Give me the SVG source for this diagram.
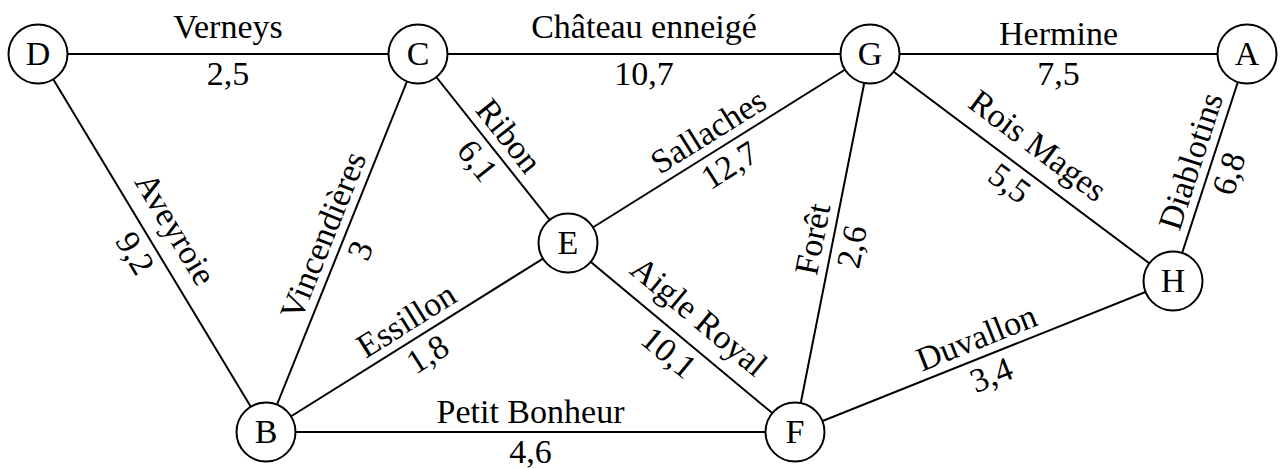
<svg xmlns="http://www.w3.org/2000/svg" width="1280" height="468" viewBox="0 0 1280 468">
<style>
.edge{stroke:#000;stroke-width:2;fill:none}
.node ellipse{fill:#fff;stroke:#000;stroke-width:2}
text{font-family:"Liberation Serif","Times New Roman",serif;font-size:34px;fill:#000;text-anchor:middle}
</style>
<rect width="1280" height="468" fill="#fff"/>
<g id="connectors">
<line class="edge" x1="38" y1="54" x2="418" y2="54"/>
<line class="edge" x1="418" y1="54" x2="870" y2="54"/>
<line class="edge" x1="870" y1="54" x2="1247" y2="54"/>
<line class="edge" x1="38" y1="54" x2="266" y2="432"/>
<line class="edge" x1="266" y1="432" x2="418" y2="54"/>
<line class="edge" x1="418" y1="54" x2="568" y2="243"/>
<line class="edge" x1="568" y1="243" x2="870" y2="54"/>
<line class="edge" x1="266" y1="432" x2="568" y2="243"/>
<line class="edge" x1="568" y1="243" x2="795" y2="432"/>
<line class="edge" x1="266" y1="432" x2="795" y2="432"/>
<line class="edge" x1="795" y1="432" x2="870" y2="54"/>
<line class="edge" x1="870" y1="54" x2="1173" y2="281"/>
<line class="edge" x1="1173" y1="281" x2="1247" y2="54"/>
<line class="edge" x1="795" y1="432" x2="1173" y2="281"/>
</g>
<g id="edge-labels">
<g transform="translate(228,54)"><text y="-16">Verneys</text><text y="31">2,5</text></g>
<g transform="translate(644,54)"><text y="-16">Château enneigé</text><text y="31">10,7</text></g>
<g transform="translate(1058.5,54)"><text y="-9">Hermine</text><text y="31">7,5</text></g>
<g transform="translate(152,243) rotate(58.9)"><text y="-16">Aveyroie</text><text y="31">9,2</text></g>
<g transform="translate(342,243) rotate(-68.1)"><text y="-9">Vincendières</text><text y="31">3</text></g>
<g transform="translate(493,148.5) rotate(51.6)"><text y="-9">Ribon</text><text y="31">6,1</text></g>
<g transform="translate(719,148.5) rotate(-32)"><text y="-9">Sallaches</text><text y="31">12,7</text></g>
<g transform="translate(417,337.5) rotate(-32)"><text y="-9">Essillon</text><text y="31">1,8</text></g>
<g transform="translate(681.5,337.5) rotate(39.8)"><text y="-16">Aigle Royal</text><text y="31">10,1</text></g>
<g transform="translate(530.5,432)"><text y="-9">Petit Bonheur</text><text y="31">4,6</text></g>
<g transform="translate(832.5,243) rotate(-78.8)"><text y="-9">Forêt</text><text y="31">2,6</text></g>
<g transform="translate(1021.5,167.5) rotate(36.8)"><text y="-16">Rois Mages</text><text y="31">5,5</text></g>
<g transform="translate(1210,167.5) rotate(-72)"><text y="-9">Diablotins</text><text y="31">6,8</text></g>
<g transform="translate(984,356.5) rotate(-21.8)"><text y="-9">Duvallon</text><text y="31">3,4</text></g>
</g>
<g id="node-D" class="node"><ellipse cx="38" cy="54" rx="29.5" ry="29.5"/><text x="38" y="65">D</text></g>
<g id="node-C" class="node"><ellipse cx="418" cy="54" rx="29.5" ry="29.5"/><text x="418" y="65">C</text></g>
<g id="node-G" class="node"><ellipse cx="870" cy="54" rx="29.5" ry="29.5"/><text x="870" y="65">G</text></g>
<g id="node-A" class="node"><ellipse cx="1247" cy="54" rx="29.5" ry="29.5"/><text x="1247" y="65">A</text></g>
<g id="node-E" class="node"><ellipse cx="568" cy="243" rx="29.5" ry="29.5"/><text x="568" y="254">E</text></g>
<g id="node-H" class="node"><ellipse cx="1173" cy="281" rx="29.5" ry="29.5"/><text x="1173" y="292">H</text></g>
<g id="node-B" class="node"><ellipse cx="266" cy="432" rx="29.5" ry="29.5"/><text x="266" y="443">B</text></g>
<g id="node-F" class="node"><ellipse cx="795" cy="432" rx="29.5" ry="29.5"/><text x="795" y="443">F</text></g>
</svg>
